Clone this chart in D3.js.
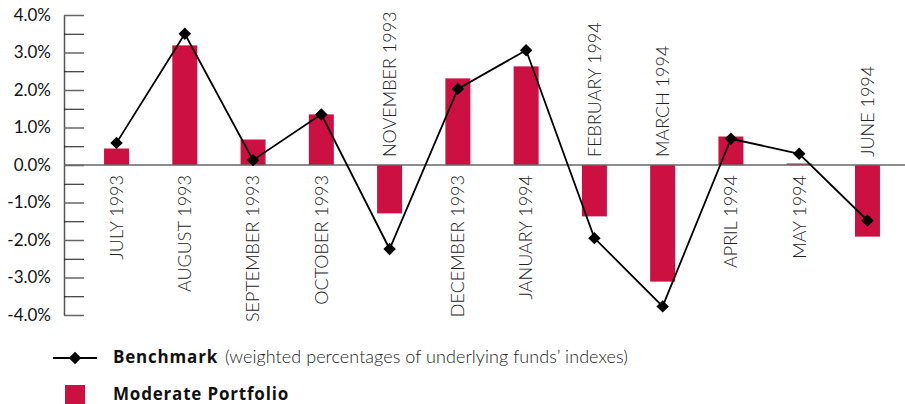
<!DOCTYPE html>
<html><head><meta charset="utf-8">
<script src="https://cdn.jsdelivr.net/npm/d3@7"></script>
<style>
html,body{margin:0;padding:0;background:#fff;}
svg{display:block;font-family:Lato,"Open Sans",sans-serif;}
</style></head>
<body>
<svg id="chart" width="905" height="404"></svg>
<script>
const months = ["JULY 1993","AUGUST 1993","SEPTEMBER 1993","OCTOBER 1993","NOVEMBER 1993","DECEMBER 1993","JANUARY 1994","FEBRUARY 1994","MARCH 1994","APRIL 1994","MAY 1994","JUNE 1994"];
const portfolio = [0.44, 3.19, 0.68, 1.35, -1.29, 2.31, 2.63, -1.37, -3.11, 0.76, 0.04, -1.91];
const benchmark = [0.59, 3.50, 0.13, 1.35, -2.24, 2.03, 3.06, -1.95, -3.77, 0.70, 0.30, -1.48];
const yTicks = [-4,-3.5,-3,-2.5,-2,-1.5,-1,-0.5,0,0.5,1,1.5,2,2.5,3,3.5,4];
const yTickLabels = {"-4":"-4.0%","-3":"-3.0%","-2":"-2.0%","-1":"-1.0%","0":"0.0%","1":"1.0%","2":"2.0%","3":"3.0%","4":"4.0%"};
const legendBenchmark = ["Benchmark", " (weighted percentages of underlying funds’ indexes)"];
const legendPortfolio = "Moderate Portfolio";

const RED = "#cc1042";
const svg = d3.select("#chart");

const x = d3.scaleBand().domain(months).range([82.4, 901.6]).paddingInner(0.634).paddingOuter(0.317);
const y = d3.scaleLinear().domain([-4, 4]).range([315, 15]);
const AX = 64;

// fit a text's width by adjusting letter-spacing
function fitWidth(sel, target) {
  const node = sel.node();
  const w = node.getComputedTextLength();
  const n = (node.textContent || "").length;
  if (n > 1) sel.attr("letter-spacing", ((target - w) / n).toFixed(3));
}

// bars
svg.append("g").selectAll("rect").data(months).join("rect")
  .attr("x", d => x(d))
  .attr("width", x.bandwidth())
  .attr("y", (d,i) => y(Math.max(0, portfolio[i])))
  .attr("height", (d,i) => Math.abs(y(portfolio[i]) - y(0)))
  .attr("fill", RED);

// y axis
const yAxis = d3.axisLeft(y).tickValues(yTicks)
  .tickSizeInner(-20).tickSizeOuter(0).tickPadding(13)
  .tickFormat(v => yTickLabels[String(v)] || "");
const ga = svg.append("g").attr("transform", `translate(${AX},0)`).call(yAxis);
ga.select(".domain").attr("stroke", "#555").attr("stroke-width", 1.5);
ga.selectAll(".tick line").attr("stroke", d => Number.isInteger(d) ? "#666" : "#111")
  .attr("stroke-width", d => Number.isInteger(d) ? 1.5 : 1);
ga.selectAll(".tick text").attr("fill", "#111").attr("font-size", 17)
  .attr("font-family", "Lato, sans-serif");

// zero line
svg.append("line").attr("x1", AX).attr("x2", 905).attr("y1", y(0)).attr("y2", y(0))
  .attr("stroke", "#666").attr("stroke-width", 1.5);

// category labels
svg.append("g").selectAll("text").data(months).join("text")
  .attr("transform", (d,i) => {
    const cx = x(d) + x.bandwidth()/2;
    return portfolio[i] >= 0 ? `translate(${cx},175) rotate(-90)` : `translate(${cx},157) rotate(-90)`;
  })
  .attr("text-anchor", (d,i) => portfolio[i] >= 0 ? "end" : "start")
  .attr("dy", "0.35em")
  .attr("font-size", 18)
  .attr("font-weight", 300)
  .attr("fill", "#222")
  .text(d => d);

// benchmark line
const line = d3.line().x((d,i) => x(months[i]) + x.bandwidth()/2).y(d => y(d));
svg.append("path").datum(benchmark).attr("d", line)
  .attr("fill", "none").attr("stroke", "#000").attr("stroke-width", 1.8);

const diamond = d3.symbol().type(d3.symbolSquare).size(78);
svg.append("g").selectAll("path").data(benchmark).join("path")
  .attr("transform", (d,i) => `translate(${x(months[i]) + x.bandwidth()/2},${y(d)}) rotate(45)`)
  .attr("d", diamond).attr("fill", "#000");

// legend
const lg = svg.append("g");
lg.append("line").attr("x1", 53).attr("x2", 97).attr("y1", 358).attr("y2", 358)
  .attr("stroke", "#000").attr("stroke-width", 1.8);
lg.append("path").attr("transform", "translate(75,358) rotate(45)").attr("d", diamond).attr("fill", "#000");
const tb = lg.append("text").attr("x", 113).attr("y", 363).attr("font-size", 17)
  .attr("font-family", "'Open Sans', sans-serif")
  .attr("font-weight", "bold").attr("fill", "#111").text(legendBenchmark[0]);
fitWidth(tb, 105);
const tr = lg.append("text").attr("x", 225).attr("y", 363).attr("font-size", 18)
  .attr("font-weight", 300).attr("fill", "#222").text(legendBenchmark[1].trim());
fitWidth(tr, 403);
lg.append("rect").attr("x", 65).attr("y", 385).attr("width", 20).attr("height", 19).attr("fill", RED);
const tp = lg.append("text").attr("x", 113).attr("y", 400).attr("font-size", 17)
  .attr("font-family", "'Open Sans', sans-serif").attr("font-weight", "bold")
  .attr("fill", "#111").text(legendPortfolio);
fitWidth(tp, 176);
</script>
</body></html>
